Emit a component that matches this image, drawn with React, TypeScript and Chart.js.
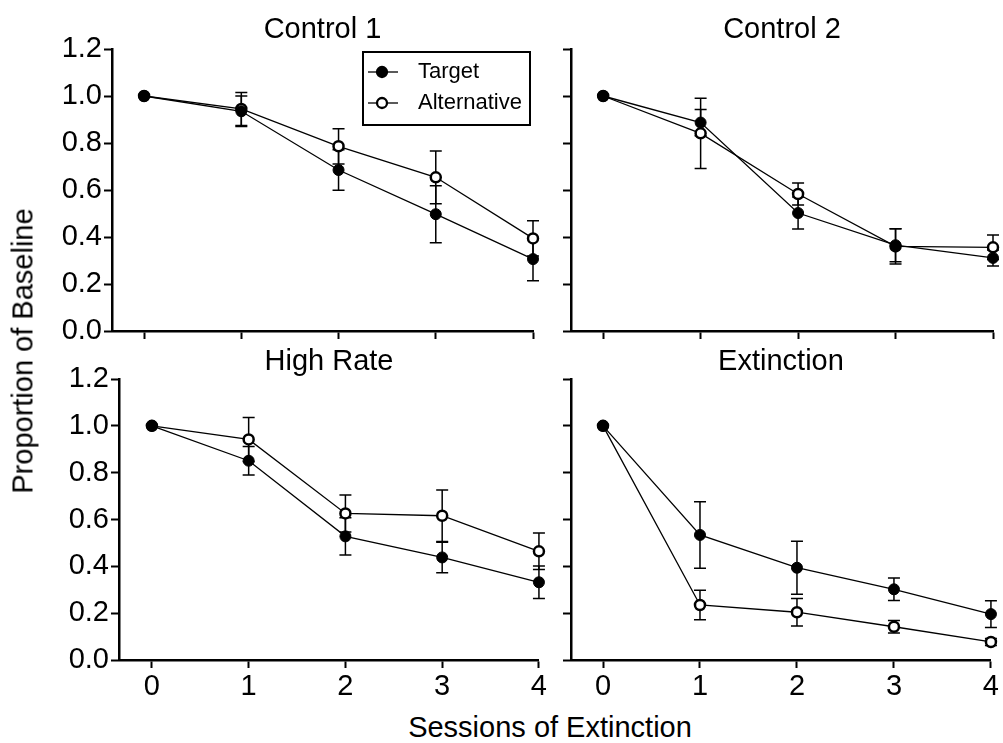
import React, { useEffect, useRef } from "react";
import { Chart, registerables } from "chart.js";

Chart.register(...registerables);

const FONT = "'Liberation Sans', Arial, Helvetica, sans-serif";

// ---- data ----
const sessions = [0, 1, 2, 3, 4];
const xTicks = [0, 1, 2, 3, 4];
const yTicks = [0, 0.2, 0.4, 0.6, 0.8, 1.0, 1.2];
const yTickLabels = ["0.0", "0.2", "0.4", "0.6", "0.8", "1.0", "1.2"];
const seriesNames = ["Target", "Alternative"];
const panelTitles = ["Control 1", "Control 2", "High Rate", "Extinction"];
const yAxisTitle = "Proportion of Baseline";
const xAxisTitle = "Sessions of Extinction";

const control1Target = [1.0, 0.935, 0.685, 0.497, 0.306];
const control1TargetErr = [0, 0.065, 0.086, 0.121, 0.092];
const control1Alt = [1.0, 0.945, 0.786, 0.654, 0.394];
const control1AltErr = [0, 0.07, 0.075, 0.112, 0.075];

const control2Target = [1.0, 0.887, 0.502, 0.365, 0.311];
const control2TargetErr = [0, 0.056, 0.068, 0.07, 0.034];
const control2Alt = [1.0, 0.841, 0.583, 0.36, 0.356];
const control2AltErr = [0, 0.149, 0.047, 0.075, 0.052];

const highRateTarget = [1.0, 0.851, 0.528, 0.438, 0.332];
const highRateTargetErr = [0, 0.061, 0.08, 0.065, 0.069];
const highRateAlt = [1.0, 0.942, 0.626, 0.616, 0.464];
const highRateAltErr = [0, 0.094, 0.079, 0.11, 0.078];

const extinctionTarget = [1.0, 0.534, 0.394, 0.302, 0.196];
const extinctionTargetErr = [0, 0.142, 0.113, 0.048, 0.057];
const extinctionAlt = [1.0, 0.235, 0.204, 0.142, 0.077];
const extinctionAltErr = [0, 0.063, 0.059, 0.027, 0.015];

// ---- plugins ----
const errorBarPlugin = {
  id: "errorBars",
  beforeDatasetsDraw(chart: any) {
    const ctx = chart.ctx;
    const yScale = chart.scales.y;
    chart.data.datasets.forEach((ds: any, i: number) => {
      const meta = chart.getDatasetMeta(i);
      const errs: number[] = ds.errors || [];
      ctx.save();
      ctx.strokeStyle = "#000";
      ctx.lineWidth = 1.5;
      meta.data.forEach((pt: any, j: number) => {
        const e = errs[j];
        if (!e) return;
        const v = ds.data[j].y;
        const top = yScale.getPixelForValue(v + e);
        const bot = yScale.getPixelForValue(v - e);
        const x = pt.x;
        ctx.beginPath();
        ctx.moveTo(x, top);
        ctx.lineTo(x, bot);
        ctx.moveTo(x - 6, top);
        ctx.lineTo(x + 6, top);
        ctx.moveTo(x - 6, bot);
        ctx.lineTo(x + 6, bot);
        ctx.stroke();
      });
      ctx.restore();
    });
  },
};

const insetLegendPlugin = {
  id: "insetLegend",
  afterDraw(chart: any) {
    const { ctx, chartArea } = chart;
    const w = 167;
    const h = 73;
    const x0 = chartArea.right - 3 - w;
    const y0 = chartArea.top + 3;
    ctx.save();
    ctx.lineWidth = 2;
    ctx.strokeStyle = "#000";
    ctx.strokeRect(x0, y0, w, h);
    chart.data.datasets.forEach((ds: any, i: number) => {
      const cy = y0 + 20 + i * 31;
      ctx.beginPath();
      ctx.lineWidth = 1.3;
      ctx.moveTo(x0 + 5, cy);
      ctx.lineTo(x0 + 35, cy);
      ctx.stroke();
      ctx.beginPath();
      ctx.arc(x0 + 19, cy, 5, 0, Math.PI * 2);
      ctx.fillStyle = ds.pointBackgroundColor;
      ctx.fill();
      ctx.lineWidth = 2.3;
      ctx.strokeStyle = "#000";
      ctx.stroke();
      ctx.fillStyle = "#000";
      ctx.font = `22px ${FONT}`;
      ctx.textBaseline = "middle";
      ctx.textAlign = "left";
      ctx.fillText(ds.label, x0 + 55, cy);
    });
    ctx.restore();
  },
};

type PanelProps = {
  title: string;
  target: number[];
  targetErr: number[];
  alt: number[];
  altErr: number[];
  showYLabels: boolean;
  showXLabels: boolean;
  legend: boolean;
  left: number;
  top: number;
  width: number;
  height: number;
  xMin: number;
  titleGap: number;
  xAxisH: number;
};

function Panel(p: PanelProps) {
  const ref = useRef<HTMLCanvasElement | null>(null);
  useEffect(() => {
    if (!ref.current) return;
    const plugins: any[] = [errorBarPlugin];
    if (p.legend) plugins.push(insetLegendPlugin);
    const chart = new Chart(ref.current, {
      type: "line",
      data: {
        datasets: [
          {
            label: seriesNames[0],
            data: sessions.map((s, i) => ({ x: s, y: p.target[i] })),
            errors: p.targetErr,
            borderColor: "#000",
            borderWidth: 1.3,
            pointRadius: 5.5,
            pointBackgroundColor: "#000",
            pointBorderColor: "#000",
            pointBorderWidth: 1,
            fill: false,
            tension: 0,
            clip: false,
          } as any,
          {
            label: seriesNames[1],
            data: sessions.map((s, i) => ({ x: s, y: p.alt[i] })),
            errors: p.altErr,
            borderColor: "#000",
            borderWidth: 1.3,
            pointRadius: 5,
            pointBackgroundColor: "#fff",
            pointBorderColor: "#000",
            pointBorderWidth: 2.5,
            fill: false,
            tension: 0,
            clip: false,
          } as any,
        ],
      },
      options: {
        responsive: false,
        animation: false,
        events: [],
        layout: { padding: { left: 0, right: 8, top: 15, bottom: 0 } },
        plugins: {
          legend: { display: false },
          tooltip: { enabled: false },
          title: {
            display: true,
            text: p.title,
            fullSize: false,
            color: "#000",
            font: { size: 29, family: FONT, weight: "normal", lineHeight: 1 },
            padding: { top: 0, bottom: p.titleGap },
          },
        },
        scales: {
          x: {
            type: "linear",
            min: p.xMin,
            max: 4,
            afterBuildTicks: (s: any) => {
              s.ticks = xTicks.map((v) => ({ value: v }));
            },
            afterFit: (s: any) => {
              s.height = p.xAxisH;
            },
            grid: {
              drawOnChartArea: false,
              drawTicks: true,
              tickLength: 8,
              tickWidth: 2,
              tickColor: "#000",
              color: "#000",
            },
            border: { display: true, color: "#000", width: 2.5 },
            ticks: {
              display: p.showXLabels,
              color: "#000",
              font: { size: 29, family: FONT },
              padding: 2,
              maxRotation: 0,
              autoSkip: false,
              callback: (v: any) => String(v),
            },
          },
          y: {
            type: "linear",
            min: 0,
            max: 1.2,
            afterBuildTicks: (s: any) => {
              s.ticks = yTicks.map((v) => ({ value: v }));
            },
            afterFit: (s: any) => {
              s.width = 75;
            },
            grid: {
              drawOnChartArea: false,
              drawTicks: true,
              tickLength: 8,
              tickWidth: 2,
              tickColor: "#000",
              color: "#000",
            },
            border: { display: true, color: "#000", width: 2.5 },
            ticks: {
              display: p.showYLabels,
              color: "#000",
              font: { size: 29, family: FONT },
              padding: 2,
              autoSkip: false,
              callback: (_v: any, idx: number) => yTickLabels[idx],
            },
          },
        },
      } as any,
      plugins,
    });
    return () => chart.destroy();
  }, []);
  return (
    <canvas
      ref={ref}
      width={p.width}
      height={p.height}
      style={{
        position: "absolute",
        left: p.left,
        top: p.top,
        width: p.width,
        height: p.height,
      }}
    />
  );
}

export default function App() {
  return (
    <div
      style={{
        position: "absolute",
        left: 0,
        top: 0,
        width: 1003,
        height: 743,
        overflow: "hidden",
        background: "#fff",
        fontFamily: FONT,
        color: "#000",
      }}
    >
      <Panel
        title={panelTitles[0]}
        target={control1Target}
        targetErr={control1TargetErr}
        alt={control1Alt}
        altErr={control1AltErr}
        showYLabels={true}
        showXLabels={false}
        legend={true}
        left={37}
        top={0}
        width={504}
        height={351}
        xMin={-0.33}
        titleGap={5}
        xAxisH={20}
      />
      <Panel
        title={panelTitles[1]}
        target={control2Target}
        targetErr={control2TargetErr}
        alt={control2Alt}
        altErr={control2AltErr}
        showYLabels={false}
        showXLabels={false}
        legend={false}
        left={496}
        top={0}
        width={505}
        height={351}
        xMin={-0.33}
        titleGap={5}
        xAxisH={20}
      />
      <Panel
        title={panelTitles[2]}
        target={highRateTarget}
        targetErr={highRateTargetErr}
        alt={highRateAlt}
        altErr={highRateAltErr}
        showYLabels={true}
        showXLabels={true}
        legend={false}
        left={44}
        top={332}
        width={505}
        height={373}
        xMin={-0.34}
        titleGap={3}
        xAxisH={45}
      />
      <Panel
        title={panelTitles[3]}
        target={extinctionTarget}
        targetErr={extinctionTargetErr}
        alt={extinctionAlt}
        altErr={extinctionAltErr}
        showYLabels={false}
        showXLabels={true}
        legend={false}
        left={496}
        top={332}
        width={505}
        height={373}
        xMin={-0.33}
        titleGap={3}
        xAxisH={45}
      />
      <div
        style={{
          position: "absolute",
          left: 23,
          top: 351,
          fontSize: 29,
          lineHeight: "29px",
          whiteSpace: "nowrap",
          transform: "translate(-50%, -50%) rotate(-90deg)",
        }}
      >
        {yAxisTitle}
      </div>
      <div
        style={{
          position: "absolute",
          left: 550,
          top: 713,
          fontSize: 29,
          lineHeight: "29px",
          whiteSpace: "nowrap",
          transform: "translateX(-50%)",
        }}
      >
        {xAxisTitle}
      </div>
    </div>
  );
}
